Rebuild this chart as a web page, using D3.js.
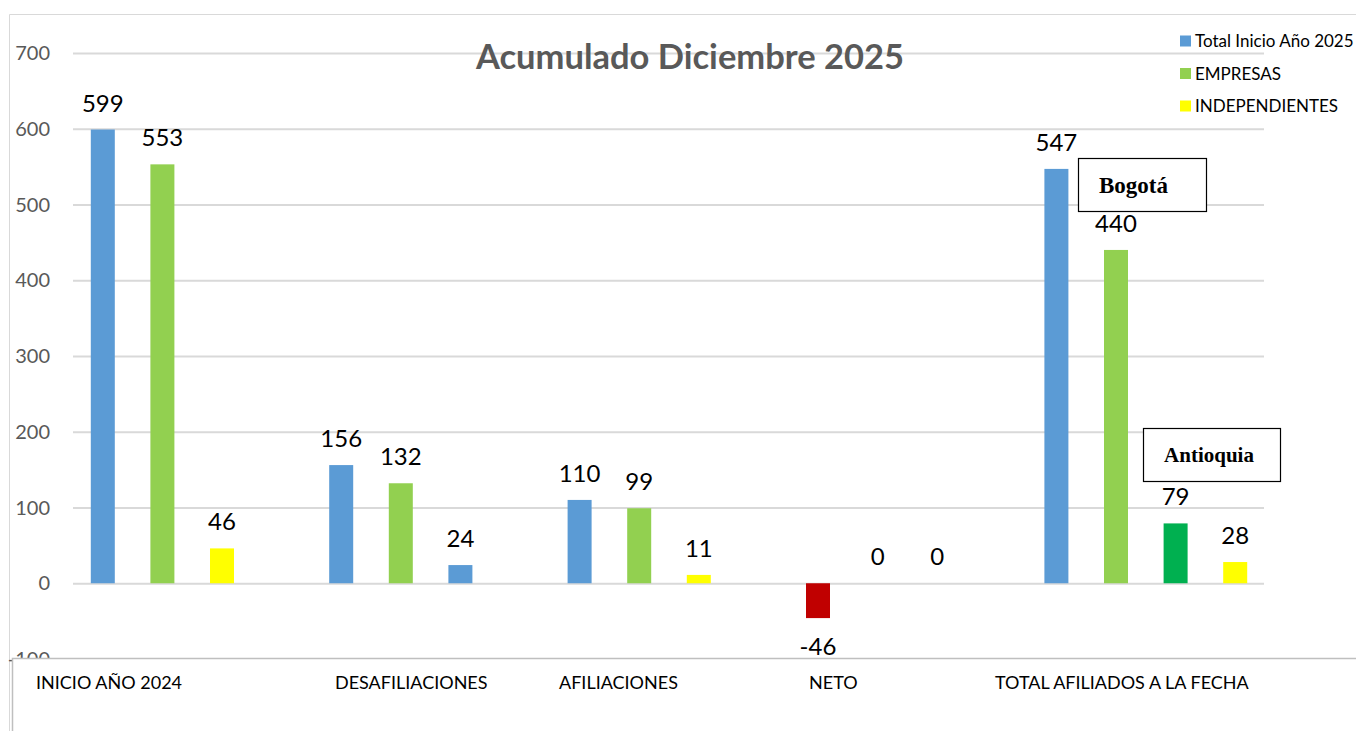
<!DOCTYPE html>
<html>
<head>
<meta charset="utf-8">
<script src="https://cdn.jsdelivr.net/npm/d3@7"></script>
<style>
  body { margin: 0; background: #fff; }
  svg { display: block; font-family: Lato, "Noto Sans", sans-serif; }
</style>
</head>
<body>
<svg id="chart" width="1356" height="731"></svg>
<script>
// data
const categories = ["INICIO AÑO 2024", "DESAFILIACIONES", "AFILIACIONES", "NETO", "TOTAL AFILIADOS A LA FECHA"];
const barValues = [
    [599, 553, 46],
    [156, 132, 24],
    [110, 99, 11],
    [-46, 0, 0],
    [547, 440, 79, 28]
];
const barKinds = [
    ["total", "empresas", "independientes"],
    ["total", "empresas", "total"],
    ["total", "empresas", "independientes"],
    ["neto", "total", "total"],
    ["total", "empresas", "antioquia", "independientes"]
];
const yTicks = [-100, 0, 100, 200, 300, 400, 500, 600, 700];
const legendLabels = ["Total Inicio Año 2025", "EMPRESAS", "INDEPENDIENTES"];
const legendKinds = ["total", "empresas", "independientes"];
const title = "Acumulado Diciembre 2025";

const palette = {
    total: "#5B9BD5",
    empresas: "#92D050",
    independientes: "#FFFF00",
    neto: "#C00000",
    antioquia: "#00B050"
};

const svg = d3.select("#chart");
const plotLeft = 73, plotRight = 1265;

const yScale = d3.scaleLinear().domain([-100, 700]).range([659, 53]);
const xGroup = d3.scaleBand().domain(d3.range(categories.length)).range([plotLeft, plotRight]);
const xSlot = d3.scaleBand().domain(d3.range(4)).range([0, xGroup.bandwidth()]);
const barWidth = 24;

// outer frame
svg.append("path")
    .attr("d", "M9.5,731 V14.5 H1356")
    .attr("fill", "none")
    .attr("stroke", "#d9d9d9");

// gridlines
svg.append("g")
    .attr("transform", `translate(${plotLeft},0)`)
    .call(d3.axisLeft(yScale).tickValues(yTicks.filter(d => d >= 0)).tickSize(-(plotRight - plotLeft - 1)).tickFormat(""))
    .call(g => g.select(".domain").remove())
    .call(g => g.selectAll("line").attr("stroke", "#d9d9d9").attr("stroke-width", 2));

// y tick labels
svg.append("g").selectAll("text")
    .data(yTicks)
    .join("text")
    .attr("x", 50)
    .attr("y", d => yScale(d))
    .attr("dy", "0.36em")
    .attr("text-anchor", "end")
    .attr("fill", "#595959")
    .attr("font-size", 20)
    .text(d => d);

// title
svg.append("text")
    .attr("x", 690)
    .attr("y", 69)
    .attr("text-anchor", "middle")
    .attr("font-size", 34.5)
    .attr("font-weight", "bold")
    .attr("fill", "#595959")
    .text(title);

// bars
const bars = [];
barValues.forEach((vals, gi) => vals.forEach((v, si) => bars.push({ gi, si, v, kind: barKinds[gi][si] })));
const barX = d => xGroup(d.gi) + xSlot(d.si) + xSlot.bandwidth() / 2;

svg.append("g").selectAll("rect")
    .data(bars)
    .join("rect")
    .attr("x", d => barX(d) - barWidth / 2)
    .attr("width", barWidth)
    .attr("y", d => yScale(Math.max(0, d.v)))
    .attr("height", d => Math.abs(yScale(d.v) - yScale(0)))
    .attr("fill", d => palette[d.kind]);

svg.append("g").selectAll("text")
    .data(bars)
    .join("text")
    .attr("x", barX)
    .attr("y", d => d.v < 0 ? yScale(d.v) + 37 : yScale(d.v) - 18)
    .attr("text-anchor", "middle")
    .attr("font-size", 24)
    .attr("fill", "#000")
    .text(d => d.v);

// annotation boxes
const annotations = [
    { text: "Bogotá", x: 1078, y: 158, w: 128, h: 53, size: 23, tx: 1099, anchor: "start" },
    { text: "Antioquia", x: 1143, y: 428, w: 137, h: 53, size: 21, tx: 1209, anchor: "middle" }
];
const ann = svg.append("g").selectAll("g").data(annotations).join("g");
ann.append("rect")
    .attr("x", d => d.x + 0.5).attr("y", d => d.y + 0.5)
    .attr("width", d => d.w).attr("height", d => d.h)
    .attr("fill", "#fff").attr("stroke", "#000").attr("stroke-width", 1.2);
ann.append("text")
    .attr("x", d => d.tx)
    .attr("y", d => d.y + d.h / 2)
    .attr("dy", "0.35em")
    .attr("text-anchor", d => d.anchor)
    .attr("font-family", "'Liberation Serif', 'DejaVu Serif', serif")
    .attr("font-weight", "bold")
    .attr("font-size", d => d.size)
    .text(d => d.text);

// legend
const legend = svg.append("g").selectAll("g")
    .data(legendLabels)
    .join("g")
    .attr("transform", (d, i) => `translate(1180,${41 + i * 32.5})`);
legend.append("rect")
    .attr("x", 0).attr("y", -5.5).attr("width", 11).attr("height", 11)
    .attr("fill", (d, i) => palette[legendKinds[i]]);
legend.append("text")
    .attr("x", 15)
    .attr("dy", "0.36em")
    .attr("font-size", 17)
    .attr("fill", "#000")
    .text(d => d);

// category label box (separate text box below the plot)
svg.append("rect")
    .attr("x", 12).attr("y", 659)
    .attr("width", 1356).attr("height", 80)
    .attr("fill", "#fff");
svg.append("path")
    .attr("d", "M12.5,731 V658.5 H1356")
    .attr("fill", "none")
    .attr("stroke", "#bfbfbf")
    .attr("stroke-width", 1.5);

const labelLeft = [36, 335, 559, 809, 995];
svg.append("g").selectAll("text")
    .data(categories)
    .join("text")
    .attr("x", (d, i) => labelLeft[i])
    .attr("y", 689)
    .attr("font-size", 18)
    .attr("fill", "#000")
    .text(d => d);
</script>
</body>
</html>
